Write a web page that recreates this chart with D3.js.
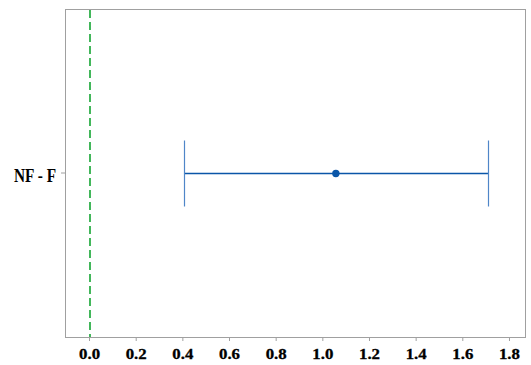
<!DOCTYPE html>
<html>
<head>
<meta charset="utf-8">
<script src="https://cdn.jsdelivr.net/npm/d3@7"></script>
<style>
  html, body { margin: 0; padding: 0; background: #fff; }
  svg text { font-family: "Liberation Serif", "Times New Roman", serif; font-weight: bold; }
</style>
</head>
<body>
<svg id="chart" width="531" height="365"></svg>
<script>
// Contrast: difference estimate with confidence interval
const categories = ["NF - F"];
const estimates = [1.058];
const lowerBounds = [0.407];
const upperBounds = [1.71];
const xTicks = [0.0, 0.2, 0.4, 0.6, 0.8, 1.0, 1.2, 1.4, 1.6, 1.8];
const referenceValue = 0;

const width = 531, height = 365;
const margin = { top: 9, right: 5, bottom: 28, left: 65 };
const svg = d3.select("#chart");

const x = d3.scaleLinear()
  .domain([-0.103, 1.873])
  .range([margin.left, width - margin.right]);

const y = d3.scaleBand()
  .domain(categories)
  .range([margin.top, height - margin.bottom])
  .padding(0.4);

// plot frame
svg.append("rect")
  .attr("x", margin.left + 0.5)
  .attr("y", margin.top + 0.5)
  .attr("width", width - margin.right - margin.left - 1)
  .attr("height", height - margin.bottom - margin.top)
  .attr("fill", "none")
  .attr("stroke", "#a0a0a0")
  .attr("stroke-width", 1);

// x axis
const xAxis = svg.append("g")
  .attr("transform", `translate(0,${height - margin.bottom})`)
  .call(d3.axisBottom(x).tickValues(xTicks).tickFormat(d3.format(".1f")).tickSize(4).tickSizeOuter(0));
xAxis.select(".domain").remove();
xAxis.selectAll(".tick line").attr("stroke", "#a0a0a0");
xAxis.selectAll(".tick text")
  .attr("fill", "#000")
  .attr("font-size", 14.5)
  .attr("y", 22)
  .attr("dy", 0)
  .attr("stroke", "#000")
  .attr("stroke-width", 0.3)
  .attr("textLength", 21)
  .attr("lengthAdjust", "spacingAndGlyphs");

// y axis
const yAxis = svg.append("g")
  .attr("transform", `translate(${margin.left},0)`)
  .call(d3.axisLeft(y).tickSize(4).tickSizeOuter(0));
yAxis.select(".domain").remove();
yAxis.selectAll(".tick line").attr("stroke", "#a0a0a0");
yAxis.selectAll(".tick text")
  .attr("fill", "#000")
  .attr("font-size", 18)
  .attr("x", -9)
  .attr("dy", 0)
  .attr("y", 8.5)
  .attr("textLength", 42)
  .attr("lengthAdjust", "spacingAndGlyphs");

// zero reference line
svg.append("line")
  .attr("x1", Math.round(x(referenceValue)) + 1).attr("x2", Math.round(x(referenceValue)) + 1)
  .attr("y1", margin.top + 1).attr("y2", height - margin.bottom)
  .attr("stroke", "#14a532")
  .attr("stroke-width", 1.6)
  .attr("stroke-dasharray", "8,4");

const rows = categories.map((c, i) => ({
  cat: c, est: estimates[i], lo: lowerBounds[i], hi: upperBounds[i]
}));

const capHalf = 33;
const g = svg.append("g");
rows.forEach(d => {
  const cy = Math.round(y(d.cat) + y.bandwidth() / 2) + 0.5;
  g.append("line")
    .attr("x1", x(d.lo)).attr("x2", x(d.hi))
    .attr("y1", cy).attr("y2", cy)
    .attr("stroke", "#0a56a8").attr("stroke-width", 1.3);
  [d.lo, d.hi].forEach(v => {
    g.append("line")
      .attr("x1", Math.round(x(v)) + 0.5).attr("x2", Math.round(x(v)) + 0.5)
      .attr("y1", cy - capHalf).attr("y2", cy + capHalf)
      .attr("stroke", "#4f86c8").attr("stroke-width", 1.2);
  });
  g.append("circle")
    .attr("cx", x(d.est)).attr("cy", cy)
    .attr("r", 3.7)
    .attr("fill", "#0a56a8");
});
</script>
</body>
</html>
